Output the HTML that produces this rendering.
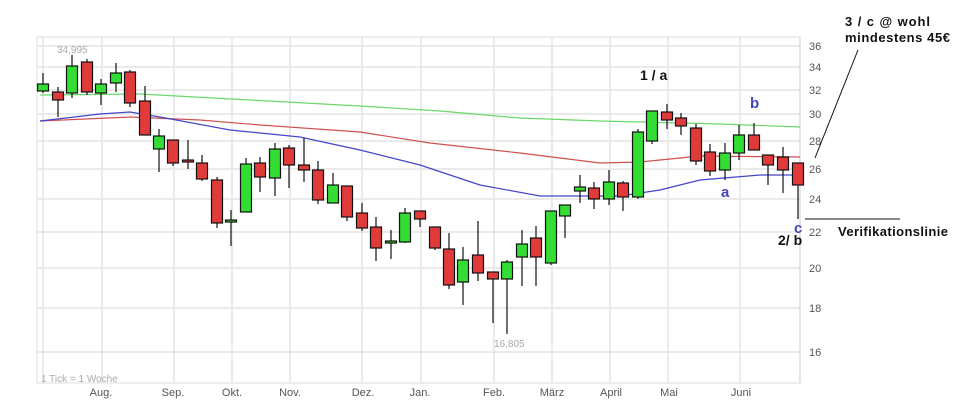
<!DOCTYPE html>
<html><head><meta charset="utf-8"><style>
html,body{margin:0;padding:0;background:#fff;width:958px;height:418px;overflow:hidden}
svg{display:block;font-family:"Liberation Sans",sans-serif}
.b{font-family:"Liberation Sans",sans-serif;font-weight:bold}
</style></head><body>
<svg width="958" height="418" xmlns="http://www.w3.org/2000/svg">
<rect x="37" y="37" width="763" height="346" fill="#fff" stroke="#ddd"/>
<g stroke="#e4e4e4" stroke-width="1.5">
<line x1="37" x2="800" y1="46" y2="46"/><line x1="37" x2="800" y1="67" y2="67"/><line x1="37" x2="800" y1="90" y2="90"/><line x1="37" x2="800" y1="114" y2="114"/><line x1="37" x2="800" y1="141" y2="141"/><line x1="37" x2="800" y1="169" y2="169"/><line x1="37" x2="800" y1="199" y2="199"/><line x1="37" x2="800" y1="232" y2="232"/><line x1="37" x2="800" y1="268" y2="268"/><line x1="37" x2="800" y1="308" y2="308"/><line x1="37" x2="800" y1="352" y2="352"/>
<line x1="43" x2="43" y1="37" y2="383"/><line x1="102" x2="102" y1="37" y2="383"/><line x1="174" x2="174" y1="37" y2="383"/><line x1="232" x2="232" y1="37" y2="383"/><line x1="290" x2="290" y1="37" y2="383"/><line x1="362" x2="362" y1="37" y2="383"/><line x1="421" x2="421" y1="37" y2="383"/><line x1="494" x2="494" y1="37" y2="383"/><line x1="552" x2="552" y1="37" y2="383"/><line x1="610" x2="610" y1="37" y2="383"/><line x1="668" x2="668" y1="37" y2="383"/><line x1="740" x2="740" y1="37" y2="383"/>
</g>
<line x1="800" x2="800" y1="37" y2="383" stroke="#ccc"/>
<g font-size="11" fill="#555">
<text x="809" y="50">36</text><text x="809" y="71">34</text><text x="809" y="94">32</text><text x="809" y="118">30</text><text x="809" y="145">28</text><text x="809" y="173">26</text><text x="809" y="203">24</text><text x="809" y="236">22</text><text x="809" y="272">20</text><text x="809" y="312">18</text><text x="809" y="356">16</text>
</g>
<g font-size="11" fill="#555" text-anchor="middle">
<text x="101" y="396">Aug.</text><text x="173" y="396">Sep.</text><text x="232" y="396">Okt.</text><text x="290" y="396">Nov.</text><text x="363" y="396">Dez.</text><text x="420" y="396">Jan.</text><text x="494" y="396">Feb.</text><text x="552" y="396">März</text><text x="611" y="396">April</text><text x="669" y="396">Mai</text><text x="741" y="396">Juni</text>
</g>
<text x="41" y="382" font-size="10" fill="#aaa">1 Tick = 1 Woche</text>
<text x="57" y="53" font-size="10" fill="#aaa">34,995</text>
<text x="494" y="347" font-size="10" fill="#aaa">16,805</text>
<polyline fill="none" stroke="#6ad86a" stroke-width="1.2" points="40,95 140,94 250,100 360,106 440,111 520,118 600,121 640,122 720,124 800,127"/>
<polyline fill="none" stroke="#d05050" stroke-width="1.2" points="40,121 130,117 200,120 260,125 360,132 430,143 520,153 600,163 640,162 700,156 800,157"/>
<polyline fill="none" stroke="#4444cc" stroke-width="1.2" points="40,121 100,114 130,112 160,117 230,130 300,137 360,150 420,165 480,185 540,196 620,196 660,190 700,180 760,175 800,175"/>
<g stroke="#111" stroke-width="1.2">
<line x1="43" x2="43" y1="73" y2="93"/><rect x="37.5" y="84" width="11" height="7" fill="#33dd33"/>
<line x1="58" x2="58" y1="87" y2="117"/><rect x="52.5" y="92" width="11" height="8" fill="#e03a3a"/>
<line x1="72" x2="72" y1="55" y2="98"/><rect x="66.5" y="66" width="11" height="27" fill="#33dd33"/>
<line x1="87" x2="87" y1="59" y2="95"/><rect x="81.5" y="62" width="11" height="30" fill="#e03a3a"/>
<line x1="101" x2="101" y1="79" y2="105"/><rect x="95.5" y="84" width="11" height="9" fill="#33dd33"/>
<line x1="116" x2="116" y1="63" y2="92"/><rect x="110.5" y="73" width="11" height="10" fill="#33dd33"/>
<line x1="130" x2="130" y1="70" y2="107"/><rect x="124.5" y="72" width="11" height="31" fill="#e03a3a"/>
<line x1="145" x2="145" y1="86" y2="135"/><rect x="139.5" y="101" width="11" height="34" fill="#e03a3a"/>
<line x1="159" x2="159" y1="129" y2="172"/><rect x="153.5" y="136" width="11" height="13" fill="#33dd33"/>
<line x1="173" x2="173" y1="140" y2="166"/><rect x="167.5" y="140" width="11" height="23" fill="#e03a3a"/>
<line x1="188" x2="188" y1="140" y2="169"/><rect x="182.5" y="160" width="11" height="2" fill="#e03a3a"/>
<line x1="202" x2="202" y1="155" y2="181"/><rect x="196.5" y="163" width="11" height="16" fill="#e03a3a"/>
<line x1="217" x2="217" y1="177" y2="228"/><rect x="211.5" y="180" width="11" height="43" fill="#e03a3a"/>
<line x1="231" x2="231" y1="210" y2="246"/><rect x="225.5" y="220" width="11" height="2" fill="#33dd33"/>
<line x1="246" x2="246" y1="158" y2="212"/><rect x="240.5" y="164" width="11" height="48" fill="#33dd33"/>
<line x1="260" x2="260" y1="157" y2="192"/><rect x="254.5" y="163" width="11" height="14" fill="#e03a3a"/>
<line x1="275" x2="275" y1="143" y2="196"/><rect x="269.5" y="149" width="11" height="29" fill="#33dd33"/>
<line x1="289" x2="289" y1="145" y2="188"/><rect x="283.5" y="148" width="11" height="17" fill="#e03a3a"/>
<line x1="304" x2="304" y1="138" y2="182"/><rect x="298.5" y="165" width="11" height="5" fill="#e03a3a"/>
<line x1="318" x2="318" y1="161" y2="204"/><rect x="312.5" y="170" width="11" height="30" fill="#e03a3a"/>
<line x1="333" x2="333" y1="173" y2="203"/><rect x="327.5" y="185" width="11" height="18" fill="#33dd33"/>
<line x1="347" x2="347" y1="186" y2="221"/><rect x="341.5" y="186" width="11" height="31" fill="#e03a3a"/>
<line x1="362" x2="362" y1="203" y2="231"/><rect x="356.5" y="213" width="11" height="15" fill="#e03a3a"/>
<line x1="376" x2="376" y1="217" y2="261"/><rect x="370.5" y="227" width="11" height="21" fill="#e03a3a"/>
<line x1="391" x2="391" y1="230" y2="259"/><rect x="385.5" y="241" width="11" height="2" fill="#33dd33"/>
<line x1="405" x2="405" y1="208" y2="243"/><rect x="399.5" y="213" width="11" height="29" fill="#33dd33"/>
<line x1="420" x2="420" y1="211" y2="227"/><rect x="414.5" y="211" width="11" height="8" fill="#e03a3a"/>
<line x1="435" x2="435" y1="227" y2="250"/><rect x="429.5" y="227" width="11" height="21" fill="#e03a3a"/>
<line x1="449" x2="449" y1="233" y2="289"/><rect x="443.5" y="249" width="11" height="36" fill="#e03a3a"/>
<line x1="463" x2="463" y1="247" y2="305"/><rect x="457.5" y="260" width="11" height="22" fill="#33dd33"/>
<line x1="478" x2="478" y1="221" y2="281"/><rect x="472.5" y="255" width="11" height="18" fill="#e03a3a"/>
<line x1="493" x2="493" y1="272" y2="323"/><rect x="487.5" y="272" width="11" height="7" fill="#e03a3a"/>
<line x1="507" x2="507" y1="260" y2="334"/><rect x="501.5" y="262" width="11" height="17" fill="#33dd33"/>
<line x1="522" x2="522" y1="230" y2="286"/><rect x="516.5" y="244" width="11" height="13" fill="#33dd33"/>
<line x1="536" x2="536" y1="226" y2="286"/><rect x="530.5" y="238" width="11" height="19" fill="#e03a3a"/>
<line x1="551" x2="551" y1="211" y2="265"/><rect x="545.5" y="211" width="11" height="52" fill="#33dd33"/>
<line x1="565" x2="565" y1="205" y2="238"/><rect x="559.5" y="205" width="11" height="11" fill="#33dd33"/>
<line x1="580" x2="580" y1="175" y2="203"/><rect x="574.5" y="187" width="11" height="4" fill="#33dd33"/>
<line x1="594" x2="594" y1="182" y2="209"/><rect x="588.5" y="188" width="11" height="11" fill="#e03a3a"/>
<line x1="609" x2="609" y1="170" y2="205"/><rect x="603.5" y="182" width="11" height="17" fill="#33dd33"/>
<line x1="623" x2="623" y1="181" y2="211"/><rect x="617.5" y="183" width="11" height="14" fill="#e03a3a"/>
<line x1="638" x2="638" y1="129" y2="199"/><rect x="632.5" y="132" width="11" height="65" fill="#33dd33"/>
<line x1="652" x2="652" y1="111" y2="144"/><rect x="646.5" y="111" width="11" height="30" fill="#33dd33"/>
<line x1="667" x2="667" y1="104" y2="129"/><rect x="661.5" y="112" width="11" height="8" fill="#e03a3a"/>
<line x1="681" x2="681" y1="113" y2="135"/><rect x="675.5" y="118" width="11" height="8" fill="#e03a3a"/>
<line x1="696" x2="696" y1="124" y2="165"/><rect x="690.5" y="128" width="11" height="33" fill="#e03a3a"/>
<line x1="710" x2="710" y1="144" y2="176"/><rect x="704.5" y="152" width="11" height="19" fill="#e03a3a"/>
<line x1="725" x2="725" y1="143" y2="180"/><rect x="719.5" y="153" width="11" height="17" fill="#33dd33"/>
<line x1="739" x2="739" y1="125" y2="160"/><rect x="733.5" y="135" width="11" height="18" fill="#33dd33"/>
<line x1="754" x2="754" y1="123" y2="150"/><rect x="748.5" y="135" width="11" height="15" fill="#e03a3a"/>
<line x1="768" x2="768" y1="155" y2="185"/><rect x="762.5" y="155" width="11" height="10" fill="#e03a3a"/>
<line x1="783" x2="783" y1="147" y2="193"/><rect x="777.5" y="157" width="11" height="13" fill="#e03a3a"/>
<line x1="798" x2="798" y1="163" y2="219"/><rect x="792.5" y="163" width="11" height="22" fill="#e03a3a"/>
</g>
<g class="b">
<text x="640" y="80" font-size="14" fill="#111">1 / a</text>
<text x="750" y="108" font-size="15" fill="#4444bb">b</text>
<text x="721" y="197" font-size="15" fill="#4444bb">a</text>
<text x="794" y="233" font-size="15" fill="#4444bb">c</text>
<text x="778" y="245" font-size="14" fill="#111">2/ b</text>
<text x="845" y="26" font-size="13" fill="#111" textLength="85">3 / c @ wohl</text>
<text x="845" y="42" font-size="13" fill="#111" textLength="105">mindestens 45€</text>
<text x="838" y="236" font-size="13" fill="#111" textLength="110">Verifikationslinie</text>
</g>
<line x1="858" y1="50" x2="815" y2="158" stroke="#111"/>
<line x1="805" y1="219" x2="900" y2="219" stroke="#111"/>
</svg>
</body></html>
